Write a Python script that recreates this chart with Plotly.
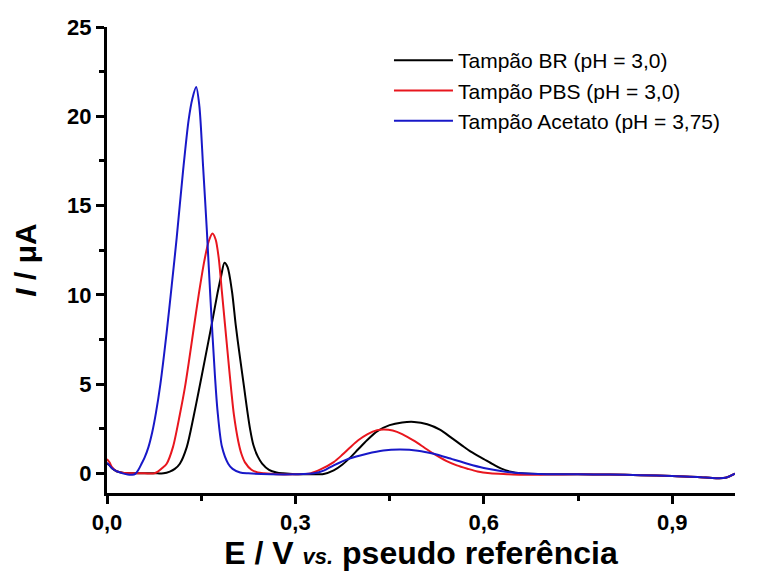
import plotly.graph_objects as go

# ---------------- data ----------------
names = ["Tampão BR (pH = 3,0)", "Tampão PBS (pH = 3,0)", "Tampão Acetato (pH = 3,75)"]
colors = ["#000000", "#e8161e", "#1818c8"]

x_br = [0.0, 0.004, 0.008, 0.015, 0.025, 0.04, 0.06, 0.08, 0.090, 0.100, 0.108, 0.116, 0.127,
        0.138, 0.146, 0.156, 0.167, 0.176, 0.182, 0.187, 0.192, 0.199, 0.205, 0.212, 0.218,
        0.223, 0.228, 0.233, 0.240, 0.247, 0.258, 0.270, 0.28, 0.30, 0.32, 0.345, 0.361, 0.375,
        0.388, 0.40, 0.414, 0.43, 0.45, 0.47, 0.489, 0.51, 0.53, 0.547, 0.565, 0.58, 0.60,
        0.615, 0.627, 0.643, 0.659, 0.70, 0.75, 0.80, 0.85, 0.90, 0.94, 0.97, 0.985, 1.0]
y_br = [0.55, 0.45, 0.28, 0.12, 0.04, 0.01, 0.0, 0.0, 0.0, 0.1, 0.25, 0.54, 1.47,
        3.2, 4.6, 6.4, 8.4, 10.1, 11.1, 11.8, 11.55, 10.2, 8.3, 6.42, 4.9,
        3.6, 2.45, 1.6, 0.95, 0.55, 0.2, 0.05, 0.0, -0.05, -0.05, -0.03, 0.17, 0.5,
        0.91, 1.35, 1.85, 2.35, 2.7, 2.85, 2.88, 2.75, 2.45, 2.03, 1.57, 1.2, 0.8,
        0.5, 0.28, 0.09, 0.0, -0.05, -0.05, -0.07, -0.1, -0.15, -0.2, -0.27, -0.25, -0.02]

x_pbs = [0.0, 0.004, 0.008, 0.015, 0.025, 0.04, 0.06, 0.075, 0.081, 0.088, 0.095, 0.105, 0.116,
         0.124, 0.131, 0.138, 0.146, 0.155, 0.162, 0.168, 0.173, 0.178, 0.183, 0.188, 0.193,
         0.198, 0.202, 0.209, 0.214, 0.220, 0.230, 0.240, 0.250, 0.27, 0.30, 0.324, 0.34, 0.361,
         0.375, 0.388, 0.40, 0.415, 0.43, 0.441, 0.455, 0.47, 0.49, 0.505, 0.520, 0.54, 0.557,
         0.574, 0.59, 0.61, 0.637, 0.66, 0.70, 0.75, 0.80, 0.85, 0.90, 0.94, 0.97, 0.985, 1.0]
y_pbs = [0.8, 0.62, 0.35, 0.12, 0.04, 0.01, 0.0, 0.0, 0.1, 0.3, 0.54, 1.47, 3.3,
         4.8, 6.4, 8.1, 10.0, 11.9, 13.0, 13.43, 13.1, 12.03, 10.16, 8.29, 6.42,
         4.6, 3.3, 1.8, 1.1, 0.6, 0.2, 0.05, 0.0, -0.05, -0.05, 0.0, 0.22, 0.63,
         1.05, 1.48, 1.85, 2.2, 2.42, 2.46, 2.4, 2.2, 1.8, 1.45, 1.1, 0.7, 0.45,
         0.26, 0.1, 0.0, -0.05, -0.08, -0.07, -0.05, -0.07, -0.1, -0.15, -0.2, -0.27, -0.25, -0.02]

x_ac = [0.0, 0.004, 0.008, 0.015, 0.025, 0.033, 0.040, 0.045, 0.050, 0.055, 0.060, 0.066, 0.072,
        0.078, 0.085, 0.095, 0.103, 0.111, 0.121, 0.130, 0.136, 0.142, 0.147, 0.153, 0.159,
        0.165, 0.172, 0.176, 0.183, 0.193, 0.200, 0.212, 0.225, 0.26, 0.30, 0.33, 0.345,
        0.361, 0.385, 0.414, 0.44, 0.467, 0.495, 0.520, 0.545, 0.574, 0.60, 0.627, 0.66,
        0.70, 0.75, 0.80, 0.85, 0.90, 0.94, 0.97, 0.985, 1.0]
y_ac = [0.6, 0.45, 0.28, 0.12, 0.0, -0.07, -0.08, -0.03, 0.2, 0.54, 0.9, 1.47, 2.3,
        3.4, 5.0, 7.9, 10.5, 13.2, 16.9, 19.8, 21.0, 21.64, 20.6, 17.2, 13.6,
        9.6, 5.4, 3.5, 1.5, 0.54, 0.25, 0.05, 0.0, -0.05, -0.05, 0.0, 0.15,
        0.45, 0.82, 1.1, 1.28, 1.33, 1.27, 1.1, 0.85, 0.54, 0.3, 0.13, 0.0,
        -0.05, -0.05, -0.07, -0.1, -0.15, -0.2, -0.27, -0.25, -0.02]

x_tickvals = [0.0, 0.3, 0.6, 0.9]
x_ticktext = ["0,0", "0,3", "0,6", "0,9"]
y_tickvals = [0, 5, 10, 15, 20, 25]
y_ticktext = ["0", "5", "10", "15", "20", "25"]

# ---------------- figure ----------------
FONT = "Arial, 'Liberation Sans', sans-serif"
fig = go.Figure()
for xs, ys, nm, c in zip([x_br, x_pbs, x_ac], [y_br, y_pbs, y_ac], names, colors):
    fig.add_trace(go.Scatter(x=xs, y=ys, mode="lines", name=nm,
                             line=dict(color=c, width=2, shape="spline", smoothing=0.8)))

axis_common = dict(showline=True, linewidth=3, linecolor="black", showgrid=False,
                   zeroline=False, ticks="outside", ticklen=8, tickwidth=3, tickcolor="black",
                   tickfont=dict(family=FONT, size=22, color="black", weight="bold"),
                   mirror=False)

fig.update_xaxes(range=[0, 1.0], tickvals=x_tickvals, ticktext=x_ticktext,
                 minor=dict(tickvals=[0.15, 0.45, 0.75], ticks="outside", ticklen=5,
                            tickwidth=3, tickcolor="black"),
                 title=dict(text="<b>E / V <i><span style='font-size:22px'>vs.</span></i> pseudo referência</b>",
                            font=dict(family=FONT, size=32, color="black"), standoff=5),
                 **axis_common)
fig.update_yaxes(range=[-1.1, 25], tickvals=y_tickvals, ticktext=y_ticktext,
                 minor=dict(tickvals=[2.5, 7.5, 12.5, 17.5, 22.5], ticks="outside", ticklen=5,
                            tickwidth=3, tickcolor="black"),
                 title=dict(text="<b><i>I</i> / μA</b>",
                            font=dict(family=FONT, size=30, color="black"), standoff=22),
                 **axis_common)

fig.update_layout(
    width=778, height=576,
    margin=dict(l=107, r=43, t=27, b=83),
    paper_bgcolor="white", plot_bgcolor="white",
    font=dict(family=FONT, color="black"),
    showlegend=True,
    legend=dict(x=0.449, y=0.972, xanchor="left", yanchor="top",
                font=dict(family=FONT, size=21, color="black"),
                bgcolor="rgba(0,0,0,0)", borderwidth=0, itemwidth=59,
                tracegroupgap=0),
)

fig.write_html("out.html")
